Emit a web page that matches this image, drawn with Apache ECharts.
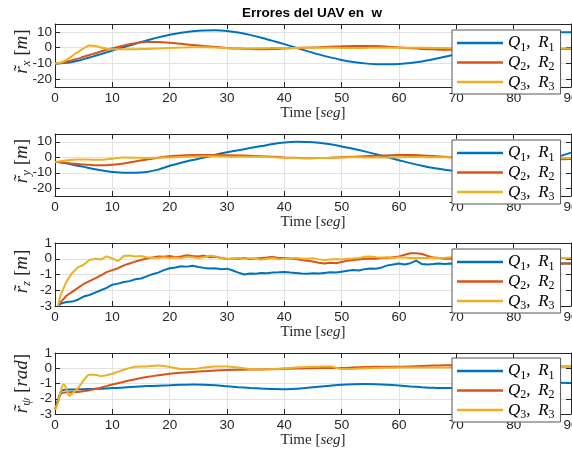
<!DOCTYPE html>
<html><head><meta charset="utf-8">
<script src="https://cdn.jsdelivr.net/npm/echarts@6/dist/echarts.min.js"></script>
<style>html,body{margin:0;padding:0;background:#fff}#c{width:572px;height:450px}</style>
</head><body><div id="c"></div>
<script>
// ---------- data ----------
const tA = [0,0.5,1,1.5,2,2.5,3,4,5,6,7,8,9,10,12,14,16,18,20,22,24,26,28,30,32,34,36,38,40,42,44,46,48,50,52,54,56,58,60,62,64,66,68,70,72,74,76,78,80,82,84,86,88,90];
const tZ = [0.5,1,2,3,4,5,6,7,8,9,10,11,12,13,14,15,16,17,18,19,20,21,22,23,24,25,26,27,28,29,30,31,32,33,34,35,36,37,38,39,40,41,42,43,44,45,46,47,48,49,50,51,52,53,54,55,56,57,58,59,60,61,62,63,64,65,66,67,68,69,70,71,72,73,74,75,76,77,78,79,80,81,82,83,84,85,86,87,88,89,90];

const seriesNames = ['Q1R1','Q2R2','Q3R3'];
const xTicksLabel = 'Time';

// panel 1: r_x [m]
const rx_Q1 = [-10,-10,-9.9,-9.8,-9.6,-9.4,-9.1,-8.3,-7.3,-6.3,-5.2,-4.1,-3,-1.9,0.3,2.5,4.5,6.5,8.2,9.5,10.4,10.9,11,10.6,9.6,8.1,6.3,4.3,2.2,0,-2.2,-4.3,-6.2,-7.8,-9.1,-10,-10.5,-10.6,-10.4,-9.8,-8.8,-7.4,-5.8,-4,-2,0.2,2.4,4.5,6.3,7.8,8.9,9.5,9.7,9.7];
const rx_Q2 = [-10,-10,-9.8,-9.4,-9,-8.5,-8,-7,-5.8,-4.7,-3.6,-2.5,-1.4,-0.4,1.4,2.8,3.5,3.5,3.1,2.4,1.7,1,0.4,-0.2,-0.6,-0.9,-1,-0.9,-0.6,-0.3,0,0.3,0.6,0.8,1,1.1,1,0.6,0.1,-0.4,-0.8,-1.1,-1.3,-1.3,-1.2,-1,-0.8,-0.6,-0.5,-0.5,-0.6,-0.7,-0.8,-0.8];
const rx_Q3 = [-10,-9.9,-9.5,-8.8,-7.8,-6.6,-5.3,-2.8,-0.5,1.3,1,0.1,-0.7,-1,-1.1,-1,-0.8,-0.6,-0.3,0,0.3,0.3,0,-0.3,-0.5,-0.5,-0.4,-0.3,-0.3,-0.2,-0.1,0,-0.1,-0.2,-0.3,-0.2,-0.1,0,0,0,-0.1,-0.2,-0.3,-0.4,-0.4,-0.4,-0.4,-0.4,-0.4,-0.5,-0.5,-0.5,-0.6,-0.6];

// panel 2: r_y [m]
const ry_Q1 = [-3,-3.1,-3.3,-3.6,-3.9,-4.3,-4.7,-5.5,-6.2,-7,-7.8,-8.4,-9,-9.5,-10,-10,-9.5,-8,-5.5,-3.5,-1.8,-0.2,1.6,3.2,4.5,5.9,7.2,8.5,9.5,10,9.8,9.3,8.4,7,5.5,3.8,1.9,0,-1.9,-3.8,-5.5,-6.9,-8,-8.9,-9.6,-9.9,-9.6,-8.7,-7.3,-5.5,-3.5,-1.4,0.7,3];
const ry_Q2 = [-3,-3.1,-3.3,-3.5,-3.7,-3.9,-4.1,-4.4,-4.7,-4.9,-5.1,-5.1,-5.1,-4.9,-4,-2.8,-1.4,-0.3,0.6,1.2,1.4,1.4,1.4,1.3,1.2,1,0.7,0.3,-0.1,-0.4,-0.6,-0.5,-0.3,0,0.3,0.6,0.9,1.2,1.5,1.5,1.2,0.8,0.3,-0.2,-0.6,-0.9,-1.1,-1.2,-1.3,-1.3,-1.3,-1.3,-1.3,-1.2];
const ry_Q3 = [-3,-2.8,-2.5,-2.2,-2,-1.8,-1.6,-1.4,-1.4,-1.5,-1.6,-1.6,-1.3,-0.9,-0.2,-0.3,-0.5,-0.3,-0.1,0.2,0.5,0.7,0.6,0.4,0.3,0.4,0.3,0,-0.3,-0.5,-0.6,-0.5,-0.3,-0.1,0,-0.1,-0.2,-0.1,0,0.1,0.1,0,0,0,-0.1,-0.2,-0.2,-0.3,-0.3,-0.4,-0.4,-0.5,-0.5,-0.5];

// panel 3: r_z [m]
const rz_Q1 = [-3,-2.85,-2.75,-2.72,-2.6,-2.4,-2.3,-2.15,-2.0,-1.85,-1.65,-1.58,-1.48,-1.42,-1.3,-1.25,-1.12,-0.98,-0.88,-0.72,-0.6,-0.55,-0.47,-0.5,-0.45,-0.52,-0.58,-0.62,-0.6,-0.66,-0.63,-0.75,-0.88,-1.0,-0.93,-0.95,-0.9,-0.92,-0.87,-0.86,-0.84,-0.88,-0.9,-0.93,-0.95,-0.92,-0.94,-0.9,-0.86,-0.88,-0.82,-0.76,-0.72,-0.74,-0.66,-0.62,-0.64,-0.55,-0.42,-0.36,-0.3,-0.36,-0.28,-0.12,-0.34,-0.36,-0.34,-0.3,-0.33,-0.3,-0.31,-0.28,-0.32,-0.3,-0.26,-0.3,-0.34,-0.3,-0.28,-0.31,-0.33,-0.3,-0.27,-0.3,-0.33,-0.3,-0.28,-0.3,-0.32,-0.3,-0.3];
const rz_Q2 = [-3,-2.75,-2.35,-2.1,-1.85,-1.6,-1.42,-1.25,-1.05,-0.85,-0.72,-0.6,-0.42,-0.3,-0.18,-0.08,0.02,0.08,0.15,0.12,0.18,0.1,0.15,0.22,0.18,0.15,0.2,0.1,0.12,0.05,-0.02,0.02,0,0.05,-0.02,0.02,0.05,0.08,0.12,0.05,0.05,0.02,-0.02,-0.08,-0.12,-0.18,-0.25,-0.3,-0.25,-0.28,-0.2,-0.12,-0.08,-0.05,0,0.02,0,0.05,0.05,0.1,0.15,0.25,0.35,0.35,0.3,0.18,0.08,0.05,0,0.02,0,-0.02,-0.05,-0.08,-0.1,-0.12,-0.1,-0.15,-0.18,-0.15,-0.2,-0.22,-0.2,-0.25,-0.27,-0.25,-0.28,-0.3,-0.28,-0.3,-0.3];
const rz_Q3 = [-3,-2.3,-1.45,-0.9,-0.55,-0.38,-0.08,0,-0.05,0.15,0.02,-0.15,0.18,0.2,0.15,0.18,0.1,0.06,0.05,0.1,0.05,0.08,0.04,0.12,0.1,0.05,0.1,0.2,0.15,0.05,0,-0.02,0.05,0,0.04,0,-0.05,0,0.05,-0.04,0,0.02,0.05,0.02,0,0.04,-0.04,-0.08,-0.05,-0.02,-0.04,0,0.02,0.05,0.12,0.15,0.1,0.08,0.1,0.05,0.1,0.08,0.05,0.06,0.04,0.05,0.08,0.05,0.06,0.1,0.08,0.05,0.08,0.04,0.06,0.1,0.05,0.02,0.06,0.08,0.05,0.03,0.06,0.04,0.08,0.05,0.02,0.04,0.06,0.03,0.05];

// panel 4: r_psi [rad]
const rpsi_Q1 = [-2.7,-2.1,-1.55,-1.42,-1.4,-1.4,-1.4,-1.38,-1.37,-1.36,-1.35,-1.34,-1.32,-1.3,-1.27,-1.22,-1.17,-1.14,-1.12,-1.09,-1.07,-1.08,-1.12,-1.18,-1.24,-1.29,-1.33,-1.36,-1.37,-1.34,-1.28,-1.21,-1.14,-1.08,-1.05,-1.04,-1.05,-1.08,-1.13,-1.19,-1.24,-1.28,-1.3,-1.3,-1.28,-1.24,-1.18,-1.11,-1.05,-1.0,-0.97,-0.95,-0.95,-0.96];
const rpsi_Q2 = [-2.7,-2.2,-1.7,-1.6,-1.58,-1.57,-1.56,-1.55,-1.5,-1.44,-1.36,-1.27,-1.17,-1.07,-0.88,-0.72,-0.58,-0.46,-0.36,-0.29,-0.24,-0.19,-0.14,-0.11,-0.1,-0.09,-0.08,-0.06,-0.04,-0.02,0,0.02,0.02,0.02,0.05,0.08,0.1,0.1,0.1,0.12,0.15,0.18,0.2,0.2,0.2,0.19,0.18,0.17,0.16,0.15,0.14,0.13,0.12,0.12];
const rpsi_Q3 = [-2.7,-2.3,-1.5,-1.05,-1.35,-1.8,-1.65,-1.3,-0.8,-0.42,-0.42,-0.52,-0.46,-0.36,-0.1,0.1,0.12,0.18,0.08,-0.05,-0.05,0.05,0.12,0.12,0.05,-0.05,-0.1,-0.05,0,0.05,0.08,0.1,0.12,-0.05,-0.05,0,0.02,0.03,0.05,0.05,0.05,0.05,0.05,0.05,0.06,0.07,0.08,0.08,0.09,0.1,0.1,0.1,0.1,0.1];

const yTicks12 = [-20,-10,0,10];
const yTicks34 = [-3,-2,-1,0,1];

// ---------- layout ----------
const colors = ['#0072BD','#D95319','#EDB120'];
const panels = [
  {top:24, h:63, min:-25, max:15, t:tA, data:[rx_Q1,rx_Q2,rx_Q3], smooth:0.3, sub:'x', unit:'m', legTop:30, padName:8},
  {top:134, h:62, min:-25, max:15, t:tA, data:[ry_Q1,ry_Q2,ry_Q3], smooth:0.3, sub:'y', unit:'m', legTop:140, padName:8},
  {top:243, h:63, min:-3, max:1, t:tZ, data:[rz_Q1,rz_Q2,rz_Q3], smooth:false, sub:'z', unit:'m', legTop:249, padName:6},
  {top:353, h:61, min:-3, max:1, t:tA, data:[rpsi_Q1,rpsi_Q2,rpsi_Q3], smooth:0.3, sub:'\u03c8', unit:'rad', legTop:358, padName:0}
];
const AX = '#262626';
const serif = 'Liberation Serif';
const sans = 'Liberation Sans';

const grid = [], xAxis = [], yAxis = [], series = [], legend = [];
panels.forEach((p, i) => {
  grid.push({left:55, right:1, top:p.top, height:p.h, show:false, containLabel:false, outerBoundsMode:'none'});
  xAxis.push({
    gridIndex:i, type:'value', min:0, max:90, interval:10, position:'bottom',
    axisLine:{show:true, onZero:false, lineStyle:{color:AX, width:1}},
    axisTick:{show:true, inside:true, length:5, lineStyle:{color:AX}},
    axisLabel:{color:AX, fontFamily:sans, fontSize:13.5, margin:4, showMaxLabel:true, showMinLabel:true},
    splitLine:{show:true, lineStyle:{color:'#e2e2e2', width:1}},
    name:'{n|' + xTicksLabel + ' [}{i|seg}{n|]}', nameLocation:'middle', nameGap:19, nameMoveOverlap:false,
    nameTextStyle:{rich:{
      n:{fontFamily:serif, fontSize:15, color:'#262626'},
      i:{fontFamily:serif, fontStyle:'italic', fontSize:15, color:'#262626'}
    }}
  });
  xAxis.push({
    gridIndex:i, type:'value', min:0, max:90, interval:10, position:'top',
    axisLine:{show:true, onZero:false, lineStyle:{color:AX, width:1}},
    axisTick:{show:true, inside:true, length:5, lineStyle:{color:AX}},
    axisLabel:{show:false}, splitLine:{show:false}
  });
  const ticks = (i < 2) ? yTicks12 : yTicks34;
  yAxis.push({
    gridIndex:i, type:'value', min:p.min, max:p.max, splitNumber:4, position:'left',
    axisLine:{show:true, onZero:false, lineStyle:{color:AX, width:1}},
    axisTick:{show:true, inside:true, length:5, lineStyle:{color:AX}},
    axisLabel:{color:AX, fontFamily:sans, fontSize:13.5, margin:3,
      formatter: v => ticks.some(k => Math.abs(k - v) < 1e-9) ? String(v) : ''},
    splitLine:{show:true, lineStyle:{color:'#e2e2e2', width:1}},
    name:'{r|r\u0303}{s|' + p.sub + '}{n| [}{r|' + p.unit + '}{n|]}',
    nameLocation:'middle', nameGap:23, nameMoveOverlap:false,
    nameTextStyle:{padding:[0,0,0,p.padName], rich:{
      r:{fontFamily:serif, fontStyle:'italic', fontSize:19, color:'#262626', lineHeight:20},
      s:{fontFamily:serif, fontStyle:'italic', fontSize:13, color:'#262626', lineHeight:20, padding:[9,0,0,0]},
      n:{fontFamily:serif, fontSize:19, color:'#262626', lineHeight:20}
    }}
  });
  yAxis.push({
    gridIndex:i, type:'value', min:p.min, max:p.max, splitNumber:4, position:'right',
    axisLine:{show:true, onZero:false, lineStyle:{color:AX, width:1}},
    axisTick:{show:true, inside:true, length:5, lineStyle:{color:AX}},
    axisLabel:{show:false}, splitLine:{show:false}
  });
  p.data.forEach((vals, k) => {
    series.push({
      type:'line', name:seriesNames[k], xAxisIndex:2*i, yAxisIndex:2*i,
      data:p.t.map((t, j) => [t, vals[j]]),
      symbol:'none', showSymbol:false, smooth:p.smooth, clip:true,
      lineStyle:{width:2, color:colors[k]}, itemStyle:{color:colors[k]}, color:colors[k],
      z:2+k, silent:true
    });
  });
  legend.push({
    data:seriesNames, orient:'vertical', left:452, top:p.legTop,
    padding:[2.4,6,1.4,5], itemGap:-1.4, itemWidth:46, itemHeight:2.5, icon:'rect',
    backgroundColor:'#fff', borderColor:'#555', borderWidth:1, borderRadius:0,
    selectedMode:false, z:10,
    formatter: name => { const d = name.charAt(1); return '{i|Q}{s|' + d + '}{n|, \u2009}{i|R}{s|' + d + '}'; },
    textStyle:{rich:{
      i:{fontFamily:serif, fontStyle:'italic', fontSize:17, lineHeight:18, color:'#000'},
      s:{fontFamily:serif, fontSize:12, lineHeight:18, color:'#000', padding:[9,0,0,0]},
      n:{fontFamily:serif, fontSize:17, lineHeight:18, color:'#000'}
    }}
  });
});

const chart = echarts.init(document.getElementById('c'), null, {renderer:'canvas'});
chart.setOption({
  animation:false,
  backgroundColor:'#fff',
  grid, xAxis, yAxis, series, legend,
  graphic:[{type:'text', x:312, y:13, z:20,
    style:{text:'Errores del UAV en  w', font:'bold 13.5px "Liberation Sans"', fill:'#000', align:'center', verticalAlign:'middle'}}]
});
</script></body></html>
